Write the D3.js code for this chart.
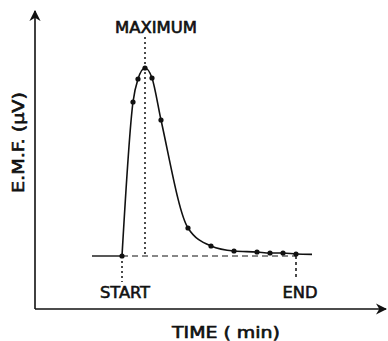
<!DOCTYPE html>
<html>
<head>
<meta charset="utf-8">
<script src="https://cdn.jsdelivr.net/npm/d3@7"></script>
<style>
  body { margin: 0; background: #fff; }
  text { font-family: "DejaVu Sans Condensed", "DejaVu Sans", sans-serif; fill: #111; stroke: #111; stroke-width: 0.55px; }
</style>
</head>
<body>
<svg id="chart" width="388" height="341"></svg>
<script>
// time in min (start of peak = 0), emf in µV above baseline
var times  = [0, 0.55, 0.8, 1.15, 1.5, 1.95, 3.3, 4.45, 5.6, 6.75, 7.4, 8.05, 8.7];
var emf    = [0, 7.7, 8.85, 9.4, 8.9, 6.8, 1.4, 0.5, 0.25, 0.2, 0.15, 0.15, 0.1];
var tailTime = 9.5, tailEmf = 0.08;
var baseStart = -1.5;
var peakIndex = 3, endIndex = 12;
var labels = { peak: "MAXIMUM", start: "START", end: "END", x: "TIME ( min)", y: "E.M.F. (\u00b5V)" };

var svg = d3.select("#chart");

var x = d3.scaleLinear().domain([-4.35, 13.2]).range([35, 386]);
var y = d3.scaleLinear().domain([-2.65, 12.25]).range([309, 11]);

var ink = "#111";

// axes (plain lines with arrows, no ticks)
svg.append("defs").append("marker")
    .attr("id", "arrow")
    .attr("viewBox", "0 0 10 10")
    .attr("refX", 9).attr("refY", 5)
    .attr("markerWidth", 7).attr("markerHeight", 7)
    .attr("orient", "auto")
    .append("path")
    .attr("d", "M0,0 L10,5 L0,10 L3,5 Z")
    .attr("fill", ink)

svg.append("line")
    .attr("x1", x.range()[0]).attr("y1", y.range()[0])
    .attr("x2", x.range()[0]).attr("y2", y.range()[1])
    .attr("stroke", ink).attr("stroke-width", 1.6)
    .attr("marker-end", "url(#arrow)")

svg.append("line")
    .attr("x1", x.range()[0]).attr("y1", y.range()[0])
    .attr("x2", x.range()[1]).attr("y2", y.range()[0])
    .attr("stroke", ink).attr("stroke-width", 1.6)
    .attr("marker-end", "url(#arrow)")

// baseline before start (solid) and under peak (dashed)
svg.append("line")
    .attr("x1", x(baseStart)).attr("y1", y(0))
    .attr("x2", x(0)).attr("y2", y(0))
    .attr("stroke", ink).attr("stroke-width", 1.4)

svg.append("line")
    .attr("x1", x(0)).attr("y1", y(0))
    .attr("x2", x(times[endIndex])).attr("y2", y(0))
    .attr("stroke", ink).attr("stroke-width", 1.2)
    .attr("stroke-dasharray", "6,4")

// dotted markers
svg.append("line")
    .attr("x1", x(times[peakIndex])).attr("y1", 37)
    .attr("x2", x(times[peakIndex])).attr("y2", y(0))
    .attr("stroke", ink).attr("stroke-width", 1.5)
    .attr("stroke-dasharray", "2,3")

svg.append("line")
    .attr("x1", x(0)).attr("y1", y(0))
    .attr("x2", x(0)).attr("y2", 282)
    .attr("stroke", ink).attr("stroke-width", 1.5)
    .attr("stroke-dasharray", "2,3")

svg.append("line")
    .attr("x1", x(times[endIndex])).attr("y1", y(0))
    .attr("x2", x(times[endIndex])).attr("y2", 279)
    .attr("stroke", ink).attr("stroke-width", 1.5)
    .attr("stroke-dasharray", "3,3")

// curve
var pts = times.map(function(t, i) { return [t, emf[i]]; });
var linePts = pts.concat([[tailTime, tailEmf]]);

var line = d3.line()
    .x(function(d) { return x(d[0]); })
    .y(function(d) { return y(d[1]); })
    .curve(d3.curveMonotoneX)

svg.append("path")
    .datum(linePts)
    .attr("d", line)
    .attr("fill", "none")
    .attr("stroke", ink)
    .attr("stroke-width", 1.6)

svg.selectAll(".dot")
    .data(pts)
    .enter().append("circle")
    .attr("class", "dot")
    .attr("cx", function(d) { return x(d[0]); })
    .attr("cy", function(d) { return y(d[1]); })
    .attr("r", 2.6)
    .attr("fill", ink)

// labels
function label(txt, px, py, size, len)
{
    return svg.append("text")
        .attr("x", px).attr("y", py)
        .attr("text-anchor", "middle")
        .attr("textLength", len)
        .attr("lengthAdjust", "spacingAndGlyphs")
        .style("font-size", size + "px")
        .text(txt)
}

label(labels.peak, 156, 33, 15, 82)
label(labels.start, 125, 298, 16, 50)
label(labels.end, 300, 298, 16, 35)
label(labels.x, 226, 338, 15, 108)

label(labels.y, 0, 0, 15, 101)
    .attr("transform", "translate(24,142.5) rotate(-90)")
</script>
</body>
</html>
